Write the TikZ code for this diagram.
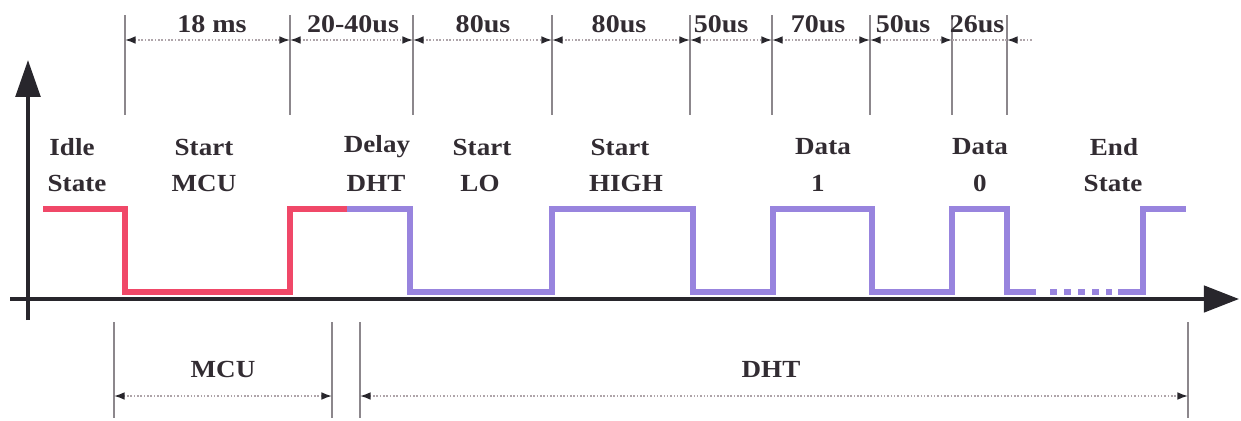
\documentclass[tikz,border=0pt]{standalone}
\usepackage{fontspec}
\setmainfont{Liberation Serif}
\newfontfamily\lbl[FakeStretch=1.1]{Liberation Serif}
\usetikzlibrary{arrows.meta}
\definecolor{sigred}{RGB}{240,72,104}
\definecolor{sigpurple}{RGB}{152,132,222}
\definecolor{axisgray}{RGB}{40,38,44}
\definecolor{dimgray}{RGB}{175,165,170}
\definecolor{tickgray}{RGB}{140,135,140}
\definecolor{txt}{RGB}{50,44,50}
\begin{document}
\begin{tikzpicture}[x=0.02cm,y=-0.02cm,
  axisline/.style={draw=axisgray,line width=2.1pt},
  sig/.style={line width=3.8pt,line join=miter,line cap=butt},
  tickline/.style={draw=tickgray,line width=0.7pt},
  dimline/.style={draw=dimgray,line width=0.9pt,densely dotted},
  dimtip/.style={{Latex[length=6pt,width=4.4pt,color=axisgray]}-{Latex[length=6pt,width=4.4pt,color=axisgray]}},
  lab/.style={font=\lbl\bfseries\fontsize{14}{16}\selectfont,text=txt,inner sep=0pt},
  toplab/.style={font=\lbl\bfseries\fontsize{14.5}{16}\selectfont,text=txt,inner sep=0pt}
]
\useasboundingbox (0,0) rectangle (1241,420);

% axes
\coordinate (yb) at (28,320);
\coordinate (yt) at (28,60);
\coordinate (xl) at (10,299);
\coordinate (xr) at (1239,299);

% waveform
\draw[sig,sigred] (43,209) -- (125,209) -- (125,292) -- (290,292) -- (290,209) -- (347,209);
\draw[sig,sigpurple] (347,209) -- (410,209) -- (410,292) -- (552,292) -- (552,209) -- (693,209)
  -- (693,292) -- (773,292) -- (773,209) -- (872,209) -- (872,292) -- (952,292) -- (952,209)
  -- (1007,209) -- (1007,292) -- (1036,292);
\draw[sigpurple,line width=3.8pt,dash pattern=on 4pt off 4pt] (1050,292) -- (1112,292);
\draw[sig,sigpurple] (1118,292) -- (1143,292) -- (1143,209) -- (1186,209);

\draw[axisline,-{Triangle[length=21pt,width=14pt]}] (yb) -- (yt);
\draw[axisline,-{Triangle[length=20pt,width=15pt]}] (xl) -- (xr);

% top ticks
\foreach \n/\x in {1/125,2/290,3/413,4/552,5/690,6/772,7/870,8/952,9/1007}{
  \draw[tickline] (\x,15) -- (\x,115);
  \coordinate (t\n) at (\x,40);
}
\coordinate (tend) at (1033,40);
\draw[dimline,dimtip] (t1) -- (t2);
\draw[dimline,dimtip] (t2) -- (t3);
\draw[dimline,dimtip] (t3) -- (t4);
\draw[dimline,dimtip] (t4) -- (t5);
\draw[dimline,dimtip] (t5) -- (t6);
\draw[dimline,dimtip] (t6) -- (t7);
\draw[dimline,dimtip] (t7) -- (t8);
\draw[dimline] (t8) -- (t9);
\draw[dimline,{Latex[length=6pt,width=4.4pt,color=axisgray]}-] (t9) -- (tend);

\node[toplab] (d1) at (212,24) {18 ms};
\node[toplab] (d2) at (353,24) {20-40us};
\node[toplab] (d3) at (483,24) {80us};
\node[toplab] (d4) at (619,24) {80us};
\node[toplab] (d5) at (721,24) {50us};
\node[toplab] (d6) at (818,24) {70us};
\node[toplab] (d7) at (903,24) {50us};
\node[toplab] (d8) at (977,24) {26us};

% state labels
\node[lab] (l1a) at (72,147) {Idle};
\node[lab] (l1b) at (77,183) {State};
\node[lab] (l2a) at (204,147) {Start};
\node[lab] (l2b) at (204,183) {MCU};
\node[lab] (l3a) at (377,147) {Delay};
\node[lab] (l3b) at (376,183) {DHT};
\node[lab] (l4a) at (482,147) {Start};
\node[lab] (l4b) at (480,183) {LO};
\node[lab] (l5a) at (620,147) {Start};
\node[lab] (l5b) at (626,183) {HIGH};
\node[lab] (l6a) at (823,147) {Data};
\node[lab] (l6b) at (818,183) {1};
\node[lab] (l7a) at (980,147) {Data};
\node[lab] (l7b) at (980,183) {0};
\node[lab] (l8a) at (1114,147) {End};
\node[lab] (l8b) at (1113,183) {State};

% bottom
\foreach \n/\x in {1/114,2/332,3/360,4/1188}{
  \draw[tickline] (\x,322) -- (\x,418);
  \coordinate (b\n) at (\x,396);
}
\draw[dimline,dimtip] (b1) -- (b2);
\draw[dimline,dimtip] (b3) -- (b4);
\node[lab] (mcu) at (223,369) {MCU};
\node[lab] (dht) at (771,369) {DHT};
\end{tikzpicture}
\end{document}
